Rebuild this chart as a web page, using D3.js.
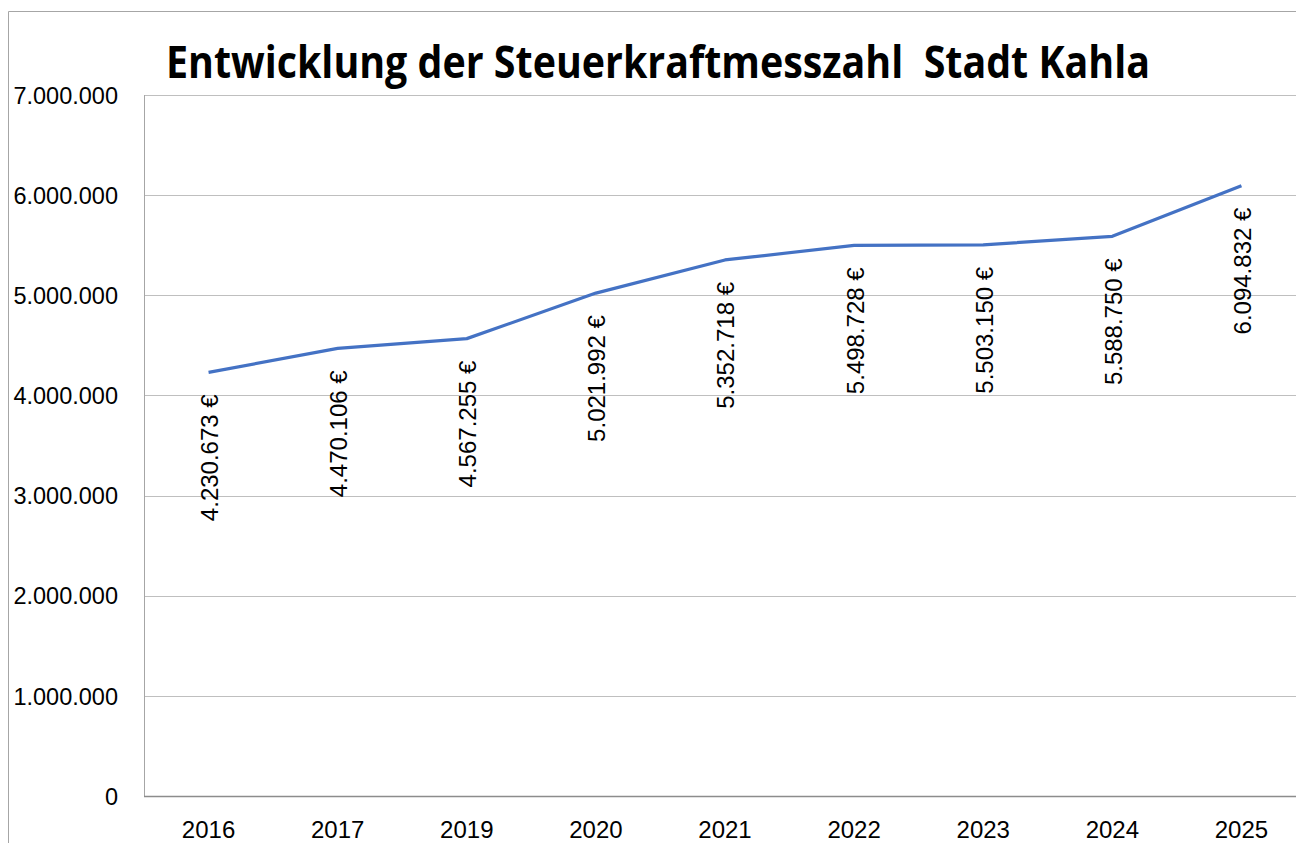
<!DOCTYPE html>
<html><head><meta charset="utf-8">
<script src="https://cdn.jsdelivr.net/npm/d3@7"></script>
<style>
html,body{margin:0;padding:0;background:#fff;}
svg{display:block;}
</style></head>
<body>
<svg id="chart" width="1296" height="843"></svg>
<script>
const title = "Entwicklung der Steuerkraftmesszahl  Stadt Kahla";
const years = ["2016","2017","2019","2020","2021","2022","2023","2024","2025"];
const values = [4230673, 4470106, 4567255, 5021992, 5352718, 5498728, 5503150, 5588750, 6094832];
const yTicks = [0,1000000,2000000,3000000,4000000,5000000,6000000,7000000];

const svg = d3.select("#chart");
const font = "'Liberation Sans', Arial, sans-serif";
const m = {left:144, top:95, right:1306, bottom:796};

// outer chart border
svg.append("path").attr("d","M8.5,900 V11.5 H1300")
  .attr("fill","none").attr("stroke","#a6a6a6").attr("stroke-width",1);

const x = d3.scaleBand().domain(years).range([m.left, m.right]).paddingInner(0).paddingOuter(0);
const y = d3.scaleLinear().domain([0,7000000]).range([m.bottom, m.top]);

const fmt = d3.formatLocale({decimal:",", thousands:".", grouping:[3], currency:["","\u00a0€"]}).format(",d");

// gridlines
svg.append("g").selectAll("line").data(yTicks.filter(d=>d>0)).join("line")
  .attr("x1", m.left).attr("x2", 1300)
  .attr("y1", d=>Math.round(y(d))+0.5).attr("y2", d=>Math.round(y(d))+0.5)
  .attr("stroke","#bfbfbf").attr("stroke-width",1);

// left axis line of plot area
svg.append("line").attr("x1",m.left+0.5).attr("x2",m.left+0.5)
  .attr("y1",m.top).attr("y2",m.bottom).attr("stroke","#a6a6a6");
// bottom axis line
svg.append("line").attr("x1",m.left).attr("x2",1300)
  .attr("y1",m.bottom+0.5).attr("y2",m.bottom+0.5).attr("stroke","#8c8c8c").attr("stroke-width",1.5);

// y axis labels
const yAxis = d3.axisLeft(y).tickValues(yTicks).tickSize(0).tickPadding(0).tickFormat(d=>fmt(d));
const gy = svg.append("g").attr("transform",`translate(118,0)`).call(yAxis);
gy.select(".domain").remove();
gy.selectAll("text").attr("font-family",font).attr("font-size",23.5).attr("fill","#000").attr("dy","0.35em");

// x axis labels
const xAxis = d3.axisBottom(x).tickSize(0).tickPadding(0);
const gx = svg.append("g").attr("transform",`translate(0,${m.bottom})`).call(xAxis);
gx.select(".domain").remove();
gx.selectAll("text").attr("font-family",font).attr("font-size",24).attr("fill","#000").attr("dy",null).attr("y",42);

// line
const cx = d=>x(d)+x.bandwidth()/2;
const line = d3.line().x((d,i)=>cx(years[i])).y(d=>y(d));
svg.append("path").datum(values).attr("d",line)
  .attr("fill","none").attr("stroke","#4472c4").attr("stroke-width",3.2).attr("stroke-linejoin","round");

// data labels
svg.append("g").selectAll("text").data(values).join("text")
  .attr("transform",(d,i)=>`translate(${cx(years[i])+1},${y(d)+22}) rotate(-90)`)
  .attr("text-anchor","end").attr("dy","0.35em")
  .attr("font-family",font).attr("font-size",24).attr("fill","#000")
  .text(d=>fmt(d)+" €");

// title
svg.append("text").attr("x",166).attr("y",78)
  .style("white-space","pre")
  .attr("font-family","'Open Sans', 'Noto Sans', sans-serif").attr("font-weight","bold")
  .attr("font-size",44).attr("textLength",984).attr("lengthAdjust","spacingAndGlyphs")
  .attr("fill","#000").text(title);
</script>
</body></html>
